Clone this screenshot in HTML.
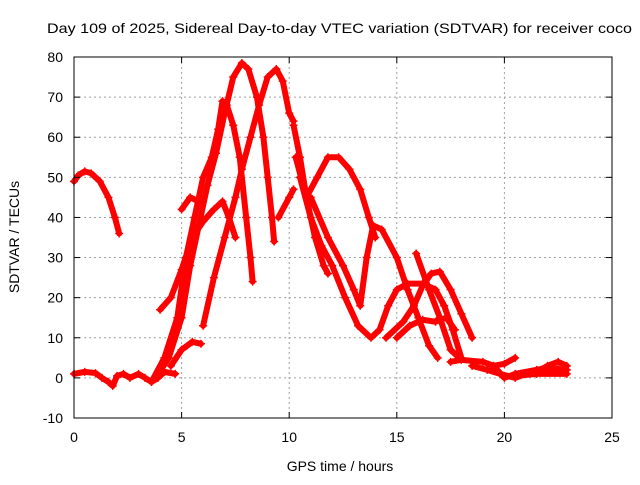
<!DOCTYPE html>
<html><head><meta charset="utf-8"><style>
body{margin:0;background:#fff}
svg text{font-family:"Liberation Sans",sans-serif;font-size:14px;fill:#000}
</style></head><body>
<svg id="chart" width="640" height="480" xmlns="http://www.w3.org/2000/svg">
<text x="47" y="33" textLength="585" lengthAdjust="spacingAndGlyphs">Day 109 of 2025, Sidereal Day-to-day VTEC variation (SDTVAR) for receiver coco</text>
<g id="grid"></g>
<g id="series"></g>
<rect x="74" y="57" width="538" height="361" fill="none" stroke="#000" stroke-width="1"/>
<g id="ticks"></g>
<text x="340" y="471" text-anchor="middle">GPS time / hours</text>
<text transform="translate(19,237) rotate(-90)" text-anchor="middle">SDTVAR / TECUs</text>
</svg>
<script>
const xTicks=[0,5,10,15,20,25];
const yTicks=[-10,0,10,20,30,40,50,60,70,80];
const trackBaseline=[[0,1],[0.5,1.5],[1,1.2],[1.3,0],[1.6,-1],[1.8,-2],[2,0.5],[2.3,1],[2.6,0],[3,1],[3.3,0],[3.6,-1],[3.9,0],[4.2,1.5],[4.7,1]];
const trackMorning=[[0,49],[0.2,50.5],[0.5,51.5],[0.8,51],[1.2,49],[1.6,45],[1.9,40],[2.1,36]];
const trackA=[[3.6,-1],[4.2,5],[4.8,15],[5.2,30],[5.6,40],[6.0,50],[6.4,55],[6.7,62],[6.9,69],[7.1,68],[7.4,63],[7.7,55],[8.0,40],[8.2,30],[8.3,24]];
const trackB=[[3.8,0],[4.4,5],[5.0,15],[5.4,28],[5.8,38],[6.2,48],[6.6,56],[7.0,66],[7.4,75],[7.8,78.5],[8.1,77],[8.5,70],[8.8,60],[9.0,50],[9.2,40],[9.3,34]];
const trackC=[[6.0,13],[6.5,25],[7.0,35],[7.5,45],[7.8,52],[8.2,60],[8.6,68],[9.0,75],[9.4,77],[9.7,74],[10.0,66],[10.2,64]];
const trackC0=[[4.5,3],[5.0,7],[5.5,9],[5.9,8.5]];
const trackD=[[4.0,17],[4.5,20],[5.0,27],[5.5,35],[6.0,39],[6.5,42],[6.9,44],[7.2,40],[7.5,35]];
const trackE=[[5,42],[5.4,45],[5.8,44]];
const trackF=[[9.5,40],[10,45],[10.2,47]];
const trackG=[[10.2,63],[10.5,55],[10.8,45],[11.2,35],[11.6,28],[11.8,26]];
const trackH=[[10.3,55],[10.8,45],[11.3,50],[11.8,55],[12.3,55],[12.8,52],[13.3,47],[13.7,40],[14.0,35]];
const trackI=[[10.5,50],[11,40],[11.5,33],[12,28],[12.6,20],[13.2,13],[13.8,10],[14.2,12],[14.6,18],[15.0,22],[15.5,23.5],[16.2,23.5],[16.8,22],[17.2,18],[17.6,12],[18.0,5]];
const trackJ=[[11,45],[11.8,35],[12.5,28],[13.0,22],[13.3,18],[13.6,30],[13.9,38],[14.3,37],[15,30],[15.5,22],[16,15],[16.5,8],[16.9,5]];
const trackL=[[14.5,10],[15.3,14],[15.8,18],[16.2,23],[16.6,26],[17.0,26.5],[17.5,22],[18,16],[18.5,10]];
const trackM=[[15,10],[15.6,13],[16.2,14.5],[16.8,14],[17.3,15],[17.7,12]];
const trackN=[[15.9,31],[16.5,22],[17,15],[17.5,7],[17.9,5]];
const trackO=[[17.5,4],[18,4.5],[19,4],[19.5,3],[20,3.5],[20.5,5]];
const trackP=[[18.5,3],[19.2,2],[19.8,1],[20.5,0],[21,1],[21.5,1.5],[22,3],[22.5,4],[22.9,3]];
const trackQ=[[19.5,3],[20,0],[20.5,1],[21.5,2],[22,2.5],[22.9,2]];
const trackR=[[20.5,0.5],[21.5,1],[22.9,1]];
const tracks=[trackBaseline,trackMorning,trackA,trackB,trackC,trackC0,trackD,trackE,trackF,trackG,trackH,trackI,trackJ,trackL,trackM,trackN,trackO,trackP,trackQ,trackR];
const NS='http://www.w3.org/2000/svg';
const X=h=>74+h*538/25, Y=v=>57+(80-v)*361/90;
const grid=document.getElementById('grid'),ticks=document.getElementById('ticks'),ser=document.getElementById('series');
function mk(t,a,p){const e=document.createElementNS(NS,t);for(const k in a)e.setAttribute(k,a[k]);p.appendChild(e);return e;}
xTicks.forEach(t=>{const x=X(t);
 if(t>0&&t<25){const g=mk('line',{x1:x,x2:x,y1:57,y2:418,stroke:'#a0a0a0','stroke-dasharray':'2,3'},grid);
 
 }
 const l=mk('text',{x:x,y:442,'text-anchor':'middle'},ticks);l.textContent=t;
 
 
 mk('line',{x1:x,x2:x,y1:418,y2:412,stroke:'#000'},ticks);mk('line',{x1:x,x2:x,y1:57,y2:63,stroke:'#000'},ticks);});
yTicks.forEach(t=>{const y=Y(t);
 if(t>-10&&t<80){const g=mk('line',{x1:74,x2:612,y1:y,y2:y,stroke:'#a0a0a0','stroke-dasharray':'2,3'},grid);
 
 }
 const l=mk('text',{x:63,y:y+5,'text-anchor':'end'},ticks);l.textContent=t;
 
 
 mk('line',{x1:74,x2:80,y1:y,y2:y,stroke:'#000'},ticks);mk('line',{x1:612,x2:606,y1:y,y2:y,stroke:'#000'},ticks);});
tracks.forEach(tr=>{
 const pl=mk('polyline',{points:tr.map(p=>X(p[0])+','+Y(p[1])).join(' '),fill:'none',stroke:'#ff0000','stroke-width':6,'stroke-linejoin':'round','stroke-linecap':'round'},ser);
 
 
 tr.forEach(p=>{const x=X(p[0]),y=Y(p[1]);
  const m=mk('path',{d:`M${x-4},${y}H${x+4}M${x},${y-4}V${y+4}`,stroke:'#ff0000','stroke-width':1.5},ser);
  
  });
});
</script>
</body></html>
